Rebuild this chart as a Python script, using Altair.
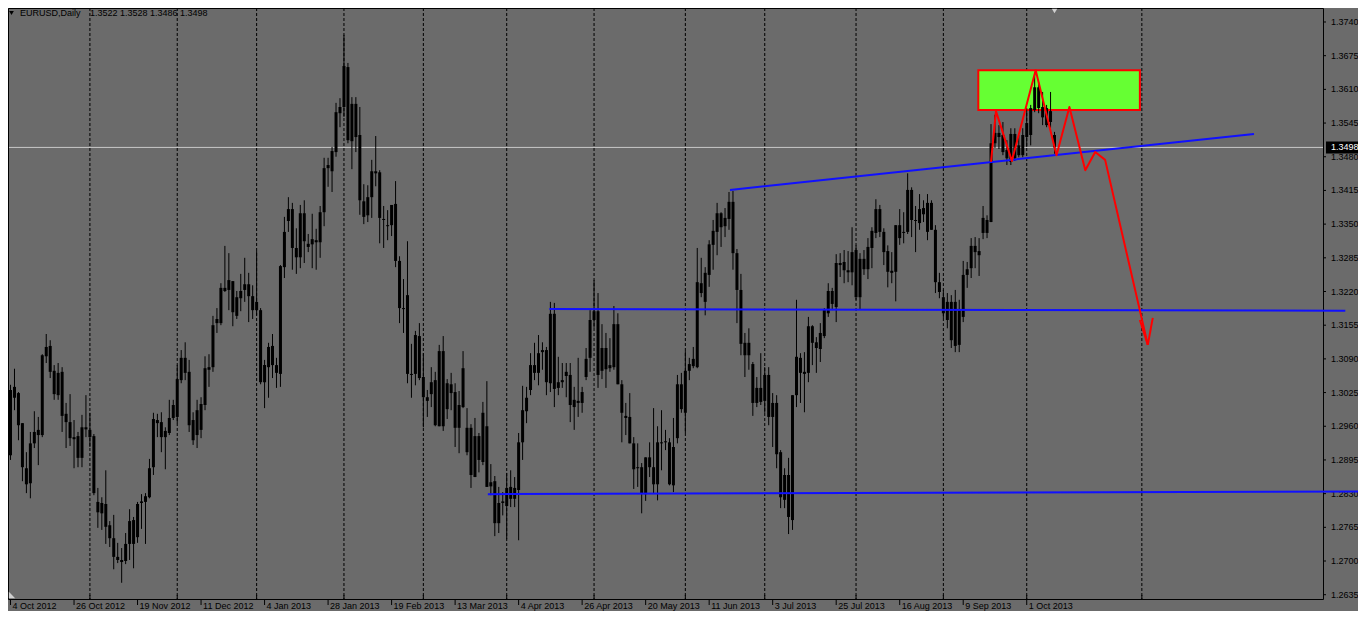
import altair as alt
import pandas as pd

# ---------------- data ----------------
opens = [1.3030,1.3036,1.3024,1.2966,1.2879,1.2850,1.2927,1.2943,1.2943,1.3095,
         1.3115,1.3067,1.3020,1.3065,1.2984,1.2968,1.2939,1.2941,1.2899,1.2958,
         1.2953,1.2941,1.2814,1.2792,1.2810,1.2769,1.2744,1.2708,1.2702,1.2700,
         1.2733,1.2779,1.2746,1.2812,1.2814,1.2823,1.2881,1.2972,1.2968,1.2939,
         1.2947,1.2976,1.2978,1.3049,1.3092,1.3065,1.2972,1.2943,1.2953,1.3001,
         1.3074,1.3074,1.3167,1.3159,1.3227,1.3223,1.3240,1.3173,1.3207,1.3223,
         1.3234,1.3211,1.3184,1.3184,1.3045,1.3074,1.3115,1.3078,1.3061,1.3267,
         1.3356,1.3379,1.3304,1.3286,1.3371,1.3312,1.3311,1.3319,1.3315,1.3373,
         1.3458,1.3452,1.3489,1.3564,1.3576,1.3653,1.3510,1.3582,1.3522,1.3394,
         1.3367,1.3402,1.3452,1.3450,1.3360,1.3348,1.3348,1.3389,1.3279,1.3188,
         1.3213,1.3061,1.3061,1.3134,1.3055,1.3016,1.3022,1.3049,1.2960,1.3105,
         1.2993,1.3041,1.3026,1.2957,1.2997,1.2957,1.2957,1.2862,1.2941,1.2891,
         1.2960,1.2852,1.2854,1.2773,1.2815,1.2806,1.2843,1.2820,1.2837,1.2929,
         1.2989,1.3030,1.3078,1.3063,1.3107,1.3107,1.3043,1.3177,1.3034,1.3045,
         1.3057,1.3059,1.2997,1.3009,1.3005,1.3055,1.3092,1.3165,1.3182,1.3067,
         1.3111,1.3072,1.3074,1.3157,1.3041,1.2980,1.2978,1.2927,1.2881,1.2881,
         1.2829,1.2900,1.2881,1.2848,1.2929,1.2931,1.2929,1.2846,1.2937,1.3041,
         1.2986,1.3067,1.3076,1.3074,1.3236,1.3200,1.3252,1.3310,1.3335,1.3371,
         1.3346,1.3360,1.3393,1.3294,1.3223,1.3121,1.3097,1.3080,1.3005,1.3034,
         1.3009,1.3059,1.2978,1.3005,1.2910,1.2818,1.2866,1.2779,1.3020,1.3092,
         1.3065,1.3063,1.3153,1.3122,1.3109,1.3134,1.3178,1.3221,1.3190,1.3275,
         1.3277,1.3261,1.3257,1.3300,1.3209,1.3283,1.3263,1.3304,1.3333,1.3379,
         1.3335,1.3298,1.3260,1.3258,1.3348,1.3335,1.3335,1.3416,1.3358,1.3352,
         1.3381,1.3391,1.3339,1.3339,1.3238,1.3209,1.3165,1.3200,1.3115,1.3184,
         1.3171,1.3252,1.3265,1.3308,1.3298,1.3333,1.3358,1.3354,1.3506,1.3526,
         1.3522,1.3493,1.3470,1.3524,1.3483,1.3483,1.3518,1.3522,1.3570,1.3614,
         1.3576,1.3574,1.3568,1.3522]
highs = [1.3040,1.3071,1.3026,1.2966,1.2910,1.2949,1.2989,1.2978,1.3099,1.3138,
         1.3126,1.3078,1.3082,1.3074,1.3005,1.3022,1.2972,1.2949,1.2982,1.3020,
         1.2986,1.2945,1.2841,1.2823,1.2875,1.2777,1.2789,1.2735,1.2725,1.2754,
         1.2800,1.2785,1.2814,1.2829,1.2831,1.2897,1.2986,1.2984,1.2987,1.2958,
         1.3011,1.3011,1.3078,1.3107,1.3122,1.3088,1.2987,1.3011,1.3016,1.3095,
         1.3099,1.3173,1.3188,1.3236,1.3308,1.3294,1.3240,1.3221,1.3254,1.3285,
         1.3256,1.3232,1.3298,1.3188,1.3088,1.3121,1.3138,1.3092,1.3271,1.3364,
         1.3402,1.3391,1.3342,1.3387,1.3396,1.3331,1.3370,1.3341,1.3385,1.3478,
         1.3478,1.3499,1.3584,1.3593,1.3715,1.3661,1.3595,1.3595,1.3576,1.3427,
         1.3425,1.3474,1.3520,1.3454,1.3385,1.3377,1.3385,1.3433,1.3288,1.3244,
         1.3317,1.3119,1.3144,1.3159,1.3101,1.3030,1.3074,1.3065,1.3117,1.3134,
         1.3051,1.3063,1.3043,1.3028,1.3105,1.2995,1.2964,1.2976,1.2947,1.3007,
         1.3047,1.2887,1.2864,1.2843,1.2833,1.2870,1.2875,1.2862,1.2947,1.3038,
         1.3036,1.3101,1.3121,1.3136,1.3122,1.3113,1.3200,1.3198,1.3094,1.3082,
         1.3082,1.3082,1.3036,1.3092,1.3036,1.3111,1.3184,1.3242,1.3217,1.3157,
         1.3140,1.3130,1.3192,1.3178,1.3049,1.3005,1.3024,1.2939,1.2927,1.2889,
         1.2900,1.2929,1.2995,1.2960,1.2991,1.2953,1.2937,1.2976,1.3059,1.3063,
         1.3105,1.3092,1.3113,1.3304,1.3285,1.3267,1.3319,1.3358,1.3391,1.3373,
         1.3381,1.3412,1.3414,1.3302,1.3254,1.3140,1.3149,1.3084,1.3055,1.3101,
         1.3074,1.3074,1.3024,1.3020,1.2914,1.2879,1.2899,1.3020,1.3204,1.3101,
         1.3103,1.3171,1.3155,1.3132,1.3159,1.3188,1.3236,1.3227,1.3292,1.3294,
         1.3300,1.3298,1.3344,1.3309,1.3294,1.3300,1.3323,1.3344,1.3398,1.3387,
         1.3342,1.3309,1.3296,1.3348,1.3379,1.3373,1.3448,1.3421,1.3385,1.3408,
         1.3396,1.3408,1.3396,1.3348,1.3256,1.3223,1.3217,1.3213,1.3223,1.3204,
         1.3279,1.3277,1.3323,1.3325,1.3323,1.3385,1.3367,1.3543,1.3561,1.3541,
         1.3547,1.3512,1.3535,1.3535,1.3522,1.3535,1.3574,1.3580,1.3643,1.3624,
         1.3605,1.3580,1.3605,1.3528]
lows = [1.2895,1.2991,1.2933,1.2854,1.2831,1.2821,1.2918,1.2885,1.2939,1.3082,
        1.3053,1.3011,1.3011,1.2949,1.2918,1.2922,1.2879,1.2881,1.2881,1.2939,
        1.2920,1.2827,1.2764,1.2760,1.2733,1.2727,1.2684,1.2696,1.2658,1.2694,
        1.2702,1.2686,1.2735,1.2762,1.2733,1.2821,1.2866,1.2939,1.2910,1.2877,
        1.2943,1.2972,1.2966,1.3043,1.3049,1.2949,1.2924,1.2918,1.2937,1.2991,
        1.3036,1.3065,1.3140,1.3155,1.3219,1.3184,1.3153,1.3167,1.3182,1.3200,
        1.3161,1.3167,1.3174,1.3041,1.2995,1.3015,1.3053,1.3034,1.3036,1.3246,
        1.3335,1.3262,1.3254,1.3265,1.3275,1.3296,1.3265,1.3262,1.3285,1.3346,
        1.3422,1.3412,1.3480,1.3537,1.3557,1.3506,1.3456,1.3489,1.3368,1.3350,
        1.3354,1.3362,1.3423,1.3313,1.3304,1.3319,1.3327,1.3267,1.3159,1.3140,
        1.3043,1.3015,1.3039,1.3049,1.2958,1.2978,1.2997,1.2960,1.2960,1.2951,
        1.2974,1.2991,1.2920,1.2908,1.2995,1.2904,1.2841,1.2862,1.2871,1.2885,
        1.2843,1.2827,1.2748,1.2754,1.2788,1.2742,1.2804,1.2804,1.2740,1.2895,
        1.2966,1.3020,1.3049,1.3039,1.3069,1.3020,1.3026,1.2997,1.3020,1.3034,
        1.3016,1.2968,1.2953,1.2978,1.2986,1.3049,1.3065,1.3150,1.3034,1.3051,
        1.3034,1.3065,1.3069,1.3041,1.2929,1.2943,1.2927,1.2839,1.2843,1.2792,
        1.2816,1.2862,1.2831,1.2817,1.2875,1.2914,1.2846,1.2833,1.2927,1.2986,
        1.2947,1.3049,1.3072,1.3072,1.3209,1.3174,1.3229,1.3262,1.3290,1.3306,
        1.3325,1.3339,1.3262,1.3159,1.3097,1.3055,1.3069,1.2980,1.2997,1.3001,
        1.2986,1.2962,1.2920,1.2879,1.2802,1.2802,1.2752,1.2760,1.2997,1.3005,
        1.2987,1.3045,1.3078,1.3063,1.3084,1.3130,1.3171,1.3184,1.3161,1.3248,
        1.3236,1.3238,1.3232,1.3204,1.3186,1.3252,1.3244,1.3265,1.3323,1.3325,
        1.3271,1.3228,1.3236,1.3201,1.3310,1.3313,1.3331,1.3325,1.3296,1.3339,
        1.3354,1.3319,1.3339,1.3217,1.3207,1.3169,1.3149,1.3111,1.3103,1.3103,
        1.3161,1.3227,1.3246,1.3265,1.3250,1.3321,1.3323,1.3354,1.3497,1.3495,
        1.3483,1.3464,1.3464,1.3472,1.3479,1.3479,1.3499,1.3502,1.3566,1.3564,
        1.3541,1.3537,1.3536,1.3486]
closes = [1.2904,1.3015,1.2962,1.2881,1.2848,1.2927,1.2949,1.2953,1.3097,1.3113,
          1.3065,1.3022,1.3063,1.2980,1.2968,1.2937,1.2935,1.2899,1.2958,1.2954,
          1.2939,1.2831,1.2794,1.2812,1.2766,1.2744,1.2708,1.2702,1.2698,1.2733,
          1.2777,1.2733,1.2810,1.2815,1.2825,1.2879,1.2974,1.2966,1.2939,1.2951,
          1.2976,1.3001,1.3051,1.3092,1.3063,1.2962,1.2933,1.2991,1.3003,1.3072,
          1.3069,1.3155,1.3159,1.3227,1.3221,1.3242,1.3180,1.3209,1.3221,1.3234,
          1.3211,1.3184,1.3200,1.3045,1.3078,1.3113,1.3078,1.3063,1.3269,1.3335,
          1.3379,1.3304,1.3286,1.3371,1.3317,1.3306,1.3321,1.3315,1.3373,1.3458,
          1.3464,1.3491,1.3566,1.3576,1.3655,1.3512,1.3582,1.3518,1.3396,1.3364,
          1.3402,1.3452,1.3448,1.3362,1.3358,1.3346,1.3387,1.3279,1.3188,1.3186,
          1.3061,1.3059,1.3136,1.3053,1.3016,1.3009,1.3045,1.2962,1.3105,1.2960,
          1.3043,1.3024,1.2957,1.3001,1.3072,1.2910,1.2866,1.2941,1.2895,1.2986,
          1.2843,1.2844,1.2773,1.2812,1.2812,1.2841,1.2820,1.2841,1.2929,1.2991,
          1.3015,1.3078,1.3063,1.3101,1.3103,1.3045,1.3177,1.3032,1.3045,1.3049,
          1.3065,1.3001,1.3011,1.3005,1.3026,1.3090,1.3165,1.3182,1.3059,1.3111,
          1.3070,1.3078,1.3157,1.3041,1.2986,1.2976,1.2927,1.2877,1.2879,1.2831,
          1.2900,1.2881,1.2848,1.2929,1.2927,1.2929,1.2848,1.2920,1.3041,1.2993,
          1.3067,1.3080,1.3090,1.3238,1.3217,1.3256,1.3311,1.3337,1.3371,1.3344,
          1.3362,1.3393,1.3294,1.3223,1.3119,1.3097,1.3121,1.3005,1.3034,1.3007,
          1.3059,1.2978,1.3005,1.2906,1.2823,1.2866,1.2785,1.3020,1.3094,1.3063,
          1.3061,1.3153,1.3121,1.3111,1.3140,1.3186,1.3221,1.3196,1.3275,1.3271,
          1.3261,1.3257,1.3296,1.3209,1.3283,1.3263,1.3306,1.3337,1.3379,1.3335,
          1.3296,1.3258,1.3256,1.3348,1.3323,1.3333,1.3416,1.3358,1.3356,1.3379,
          1.3369,1.3335,1.3391,1.3238,1.3219,1.3178,1.3200,1.3126,1.3200,1.3117,
          1.3252,1.3263,1.3308,1.3296,1.3290,1.3362,1.3333,1.3506,1.3526,1.3518,
          1.3489,1.3477,1.3524,1.3477,1.3502,1.3522,1.3545,1.3574,1.3614,1.3574,
          1.3556,1.3541,1.3547,1.3498]

label_bars = [0, 16, 32, 48, 64, 80, 96, 112, 128, 144, 160, 176, 192, 208, 224, 240, 256]
label_texts = ["4 Oct 2012", "26 Oct 2012", "19 Nov 2012", "11 Dec 2012", "4 Jan 2013",
               "28 Jan 2013", "19 Feb 2013", "13 Mar 2013", "4 Apr 2013", "26 Apr 2013",
               "20 May 2013", "11 Jun 2013", "3 Jul 2013", "25 Jul 2013", "16 Aug 2013",
               "9 Sep 2013", "1 Oct 2013"]
month_bars = [20, 42, 62, 84, 104, 125, 147, 170, 190, 213, 235, 256, 285]
y_ticks = [1.2635, 1.2700, 1.2765, 1.2830, 1.2895, 1.2960, 1.3025, 1.3090, 1.3155,
           1.3220, 1.3285, 1.3350, 1.3415, 1.3480, 1.3545, 1.3610, 1.3675, 1.3740]
current_price = 1.3498

# blue trend / horizontal lines (bar index, price)
blue_ids = ["trend", "trend", "mid", "mid", "low", "low"]
blue_bars = [181.25, 313.25, 135.75, 336.25, 120.25, 340.25]
blue_prices = [1.3416, 1.3524, 1.3186, 1.3183, 1.2829, 1.2834]

# red drawn path and arrow head
red_ids = ["path"] * 10 + ["head1", "head1", "head2", "head2"]
red_bars = [247.0, 248.25, 252.25, 258.25, 263.5, 266.75, 270.75, 273.25, 275.75, 286.5,
            284.5, 286.5, 287.75, 286.5]
red_prices = [1.3470, 1.3568, 1.3472, 1.3647, 1.3483, 1.3576, 1.3454, 1.3489, 1.3474, 1.3117,
              1.3165, 1.3117, 1.3169, 1.3117]

# green zone
zone_bars = [243.8, 284.5]
zone_prices = [1.3570, 1.3647]

# chart-shift marker position (last bar)
shift_bar = 263

# ---------------- chart ----------------
W, H = 1315, 591
PR, PB = 35, 12
FONT = "Liberation Sans"
BG = "#6b6b6b"

xs = alt.Scale(domain=[0.625, 329.375], nice=False, zero=False)
ys = alt.Scale(domain=[1.26267, 1.37670], nice=False, zero=False)

n = len(opens)
df = pd.DataFrame({"bar": list(range(n)), "open": opens, "high": highs,
                   "low": lows, "close": closes})
one = pd.DataFrame({"a": [0]})

def X(field):
    return alt.X(field, scale=xs, axis=None)

def Y(field):
    return alt.Y(field, scale=ys, axis=None)

# whole-canvas background and plot frame
bg = alt.Chart(one).mark_rect(fill=BG, stroke=None).encode(
    x=alt.value(0), x2=alt.value(W + PR), y=alt.value(0), y2=alt.value(H + PB))

frame = alt.Chart(one).mark_rect(fill=None, stroke="black", strokeWidth=1).encode(
    x=alt.value(0.5), x2=alt.value(W + 0.5), y=alt.value(0.5), y2=alt.value(H + 0.5))

grid = alt.Chart(pd.DataFrame({"bar": month_bars})).mark_rule(
    color="black", strokeWidth=1, strokeDash=[3, 2]).encode(
    x=X("bar:Q"), y=alt.value(0), y2=alt.value(H))

month_ticks = alt.Chart(pd.DataFrame({"bar": month_bars})).mark_rule(
    color="black", strokeWidth=1).encode(
    x=X("bar:Q"), y=alt.value(H - 4), y2=alt.value(H))

# x axis (ticks + labels)
xlab_df = pd.DataFrame({"bar": label_bars, "t": label_texts})
x_ticks = alt.Chart(xlab_df).mark_rule(color="black", strokeWidth=1).encode(
    x=X("bar:Q"), y=alt.value(H), y2=alt.value(H + 6))
x_labels = alt.Chart(xlab_df).mark_text(
    color="black", font=FONT, fontSize=9, align="left", baseline="alphabetic", dx=2).encode(
    x=X("bar:Q"), y=alt.value(H + 10), text="t:N")

# y axis (ticks + labels)
ylab_df = pd.DataFrame({"p": y_ticks, "t": [f"{v:.4f}" for v in y_ticks]})
y_tick_marks = alt.Chart(ylab_df).mark_rule(color="black", strokeWidth=1).encode(
    y=Y("p:Q"), x=alt.value(W), x2=alt.value(W + 3))
y_labels = alt.Chart(ylab_df).mark_text(
    color="black", font=FONT, fontSize=9, align="left", baseline="middle").encode(
    y=Y("p:Q"), x=alt.value(W + 8), text="t:N")

zone = alt.Chart(pd.DataFrame({"b1": [zone_bars[0]], "b2": [zone_bars[1]],
                               "p1": [zone_prices[0]], "p2": [zone_prices[1]]})).mark_rect(
    fill="#66ff33", stroke="#ff0000", strokeWidth=2).encode(
    x=X("b1:Q"), x2="b2:Q", y=Y("p1:Q"), y2="p2:Q")

price_line = alt.Chart(pd.DataFrame({"p": [current_price]})).mark_rule(
    color="#c8c8c8", strokeWidth=1).encode(
    y=Y("p:Q"), x=alt.value(0), x2=alt.value(W))

wicks = alt.Chart(df).mark_rule(color="black", strokeWidth=1).encode(
    x=X("bar:Q"), y=Y("low:Q"), y2="high:Q")

bodies = alt.Chart(df).mark_bar(color="black", size=3).encode(
    x=X("bar:Q"), y=Y("open:Q"), y2="close:Q")

blue = alt.Chart(pd.DataFrame({"id": blue_ids, "bar": blue_bars, "p": blue_prices})).mark_line(
    color="#1010ff", strokeWidth=2).encode(
    x=X("bar:Q"), y=Y("p:Q"), detail="id:N")

red = alt.Chart(pd.DataFrame({"id": red_ids, "bar": red_bars, "p": red_prices,
                              "k": list(range(len(red_ids)))})).mark_line(
    color="#ff0000", strokeWidth=2, strokeJoin="round").encode(
    x=X("bar:Q"), y=Y("p:Q"), detail="id:N", order="k:Q")

tag_box = alt.Chart(pd.DataFrame({"p": [current_price]})).mark_point(
    shape="M-1,-0.333L1,-0.333L1,0.333L-1,0.333Z", size=1296, filled=True,
    color="black", opacity=1).encode(
    y=Y("p:Q"), x=alt.value(W + 21))

tag_text = alt.Chart(pd.DataFrame({"p": [current_price],
                                   "t": [f"{current_price:.4f}"]})).mark_text(
    color="white", font=FONT, fontSize=9, align="left", baseline="middle").encode(
    y=Y("p:Q"), x=alt.value(W + 8), text="t:N")

title_df = pd.DataFrame({"t": ["EURUSD,Daily",
                               f"{opens[-1]:.4f} {highs[-1]:.4f} {lows[-1]:.4f} {closes[-1]:.4f}"],
                         "px": [12, 82]})
title_text = alt.Chart(title_df).mark_text(
    color="black", font=FONT, fontSize=9, align="left", baseline="middle").encode(
    x=alt.X("px:Q", scale=None, axis=None), y=alt.value(5), text="t:N")

title_tri = alt.Chart(one).mark_point(
    shape="triangle-down", size=22, filled=True, color="black", opacity=1).encode(
    x=alt.value(3.5), y=alt.value(5))

shift_tri = alt.Chart(pd.DataFrame({"bar": [shift_bar]})).mark_point(
    shape="triangle-down", size=30, filled=True, color="#d0d0d0", opacity=1).encode(
    x=X("bar:Q"), y=alt.value(3))

corner_tri = alt.Chart(one).mark_point(
    shape="M-1,-1L1,1L-1,1Z", size=40, filled=True, color="#d0d0d0", opacity=1).encode(
    x=alt.value(4), y=alt.value(H - 4))

chart = alt.layer(
    bg, grid, zone, price_line, month_ticks, frame, x_ticks, x_labels,
    y_tick_marks, y_labels, wicks, bodies, blue, red,
    tag_box, tag_text, title_tri, title_text, shift_tri, corner_tri
).properties(
    width=W, height=H,
    autosize=alt.AutoSizeParams(type="none"),
    padding={"left": 0, "top": 0, "right": PR, "bottom": PB},
    background=BG,
).configure_view(
    strokeWidth=0
)

chart.save("out.html", embed_options={"renderer": "svg", "actions": False})
